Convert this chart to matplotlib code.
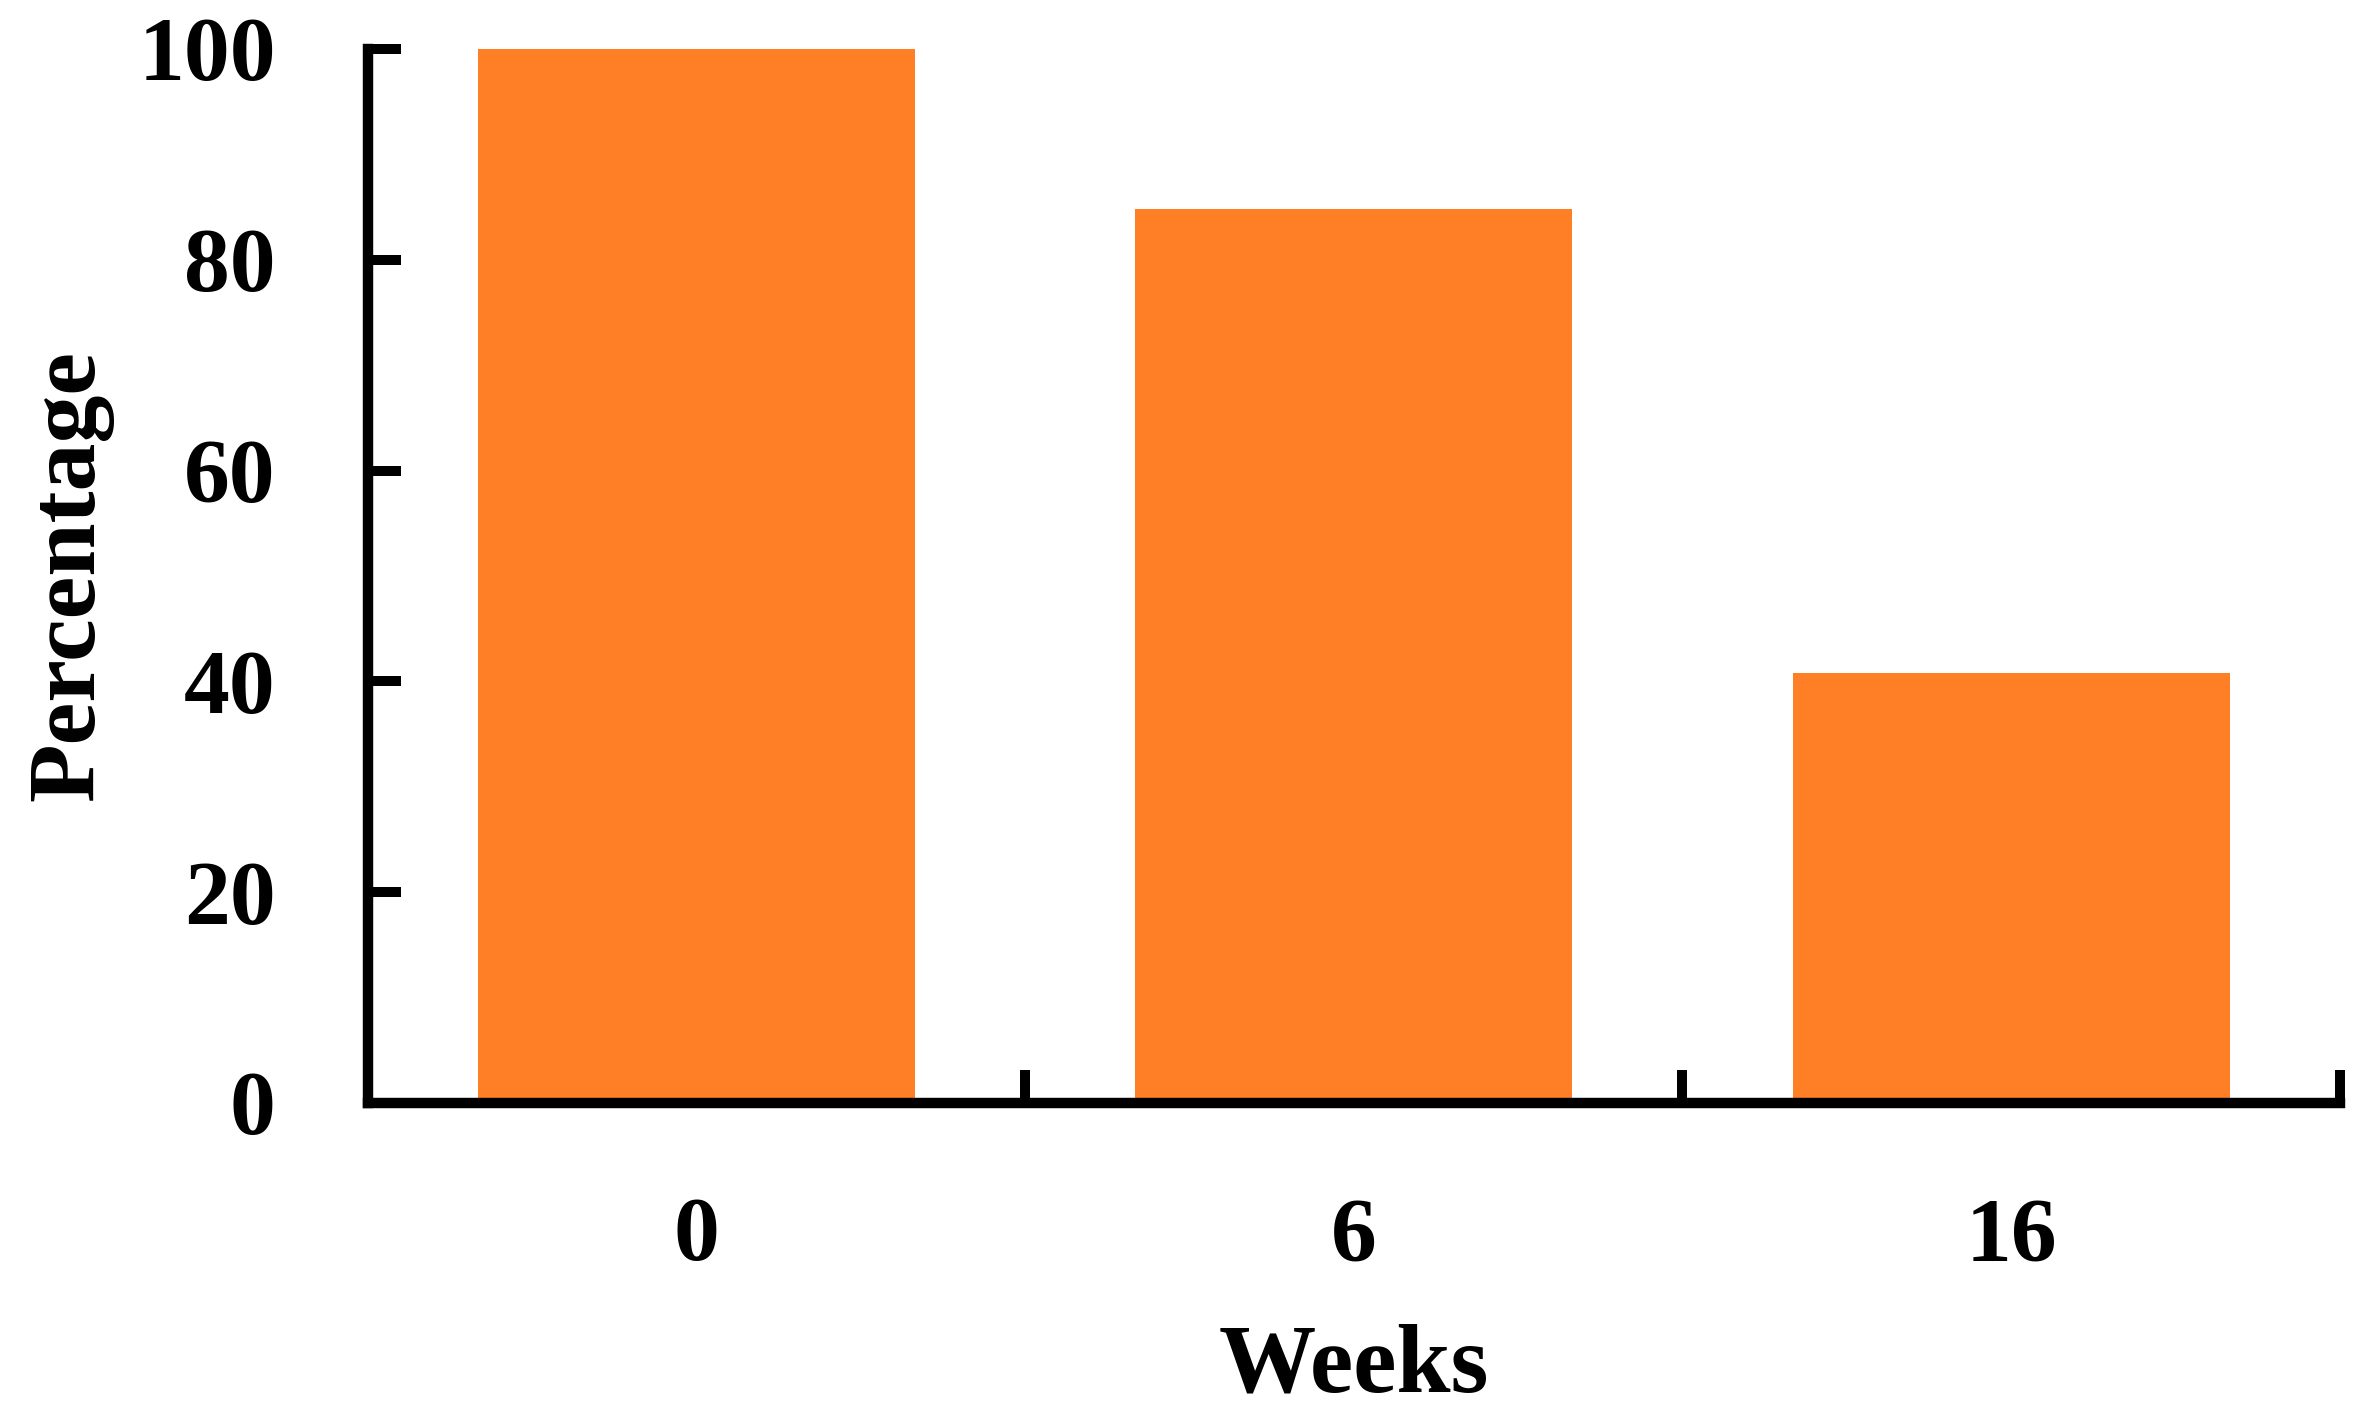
import matplotlib
matplotlib.use('Agg')
import matplotlib.pyplot as plt
import numpy as np

# data
weeks = ['0', '6', '16']
percentage = [100, 84.8, 40.8]
y_ticks = [0, 20, 40, 60, 80, 100]

plt.rcParams['font.family'] = ['Liberation Serif', 'DejaVu Serif']
plt.rcParams['font.weight'] = 'bold'

fig = plt.figure(figsize=(23.65, 14.23), dpi=100)
ax = fig.add_axes([0.1554, 0.2249, 0.8340, 0.7407])

x = np.arange(len(weeks))
ax.bar(x, percentage, width=0.665, color='#FF7F27', zorder=1)

ax.set_xlim(-0.5, len(weeks) - 0.5)
ax.set_ylim(0, 100)

# spines: only left and bottom, thick black
for side in ['top', 'right']:
    ax.spines[side].set_visible(False)
for side in ['left', 'bottom']:
    ax.spines[side].set_linewidth(7.5)
    ax.spines[side].set_color('black')
    ax.spines[side].set_zorder(3)

# y ticks point inward
ax.set_yticks(y_ticks)
ax.set_yticklabels([str(v) for v in y_ticks])
ax.tick_params(axis='y', direction='in', length=24, width=7.2, pad=66,
               labelsize=66)

# x: labels at the bar centres, tick marks at category edges
ax.set_xticks(x)
ax.set_xticklabels(weeks)
ax.set_xticks(x + 0.5, minor=True)
ax.tick_params(axis='x', which='major', length=0, pad=68, labelsize=66)
ax.tick_params(axis='x', which='minor', direction='in', length=24, width=7.2)

ax.set_xlabel('Weeks', fontsize=70, fontweight='bold', labelpad=32)
ax.set_ylabel('Percentage', fontsize=69, fontweight='bold', labelpad=18)

fig.savefig('out.png', dpi=100)
plt.close(fig)
